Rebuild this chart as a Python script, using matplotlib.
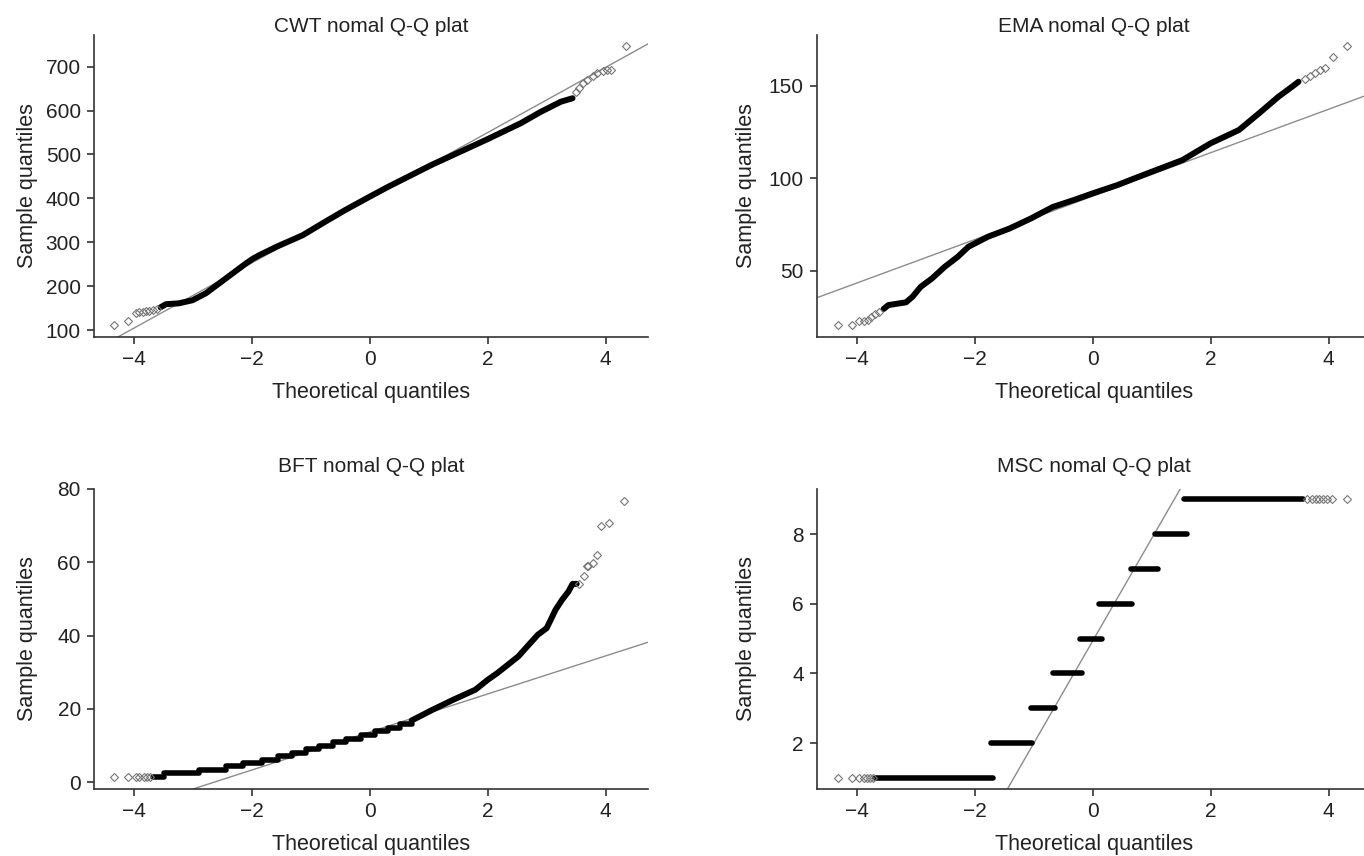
import matplotlib
matplotlib.use("Agg")
import matplotlib.pyplot as plt

plt.rcParams['font.family'] = ['Liberation Sans', 'DejaVu Sans']

# CWT
cwt_theo = [-3.55, -3.46, -3.24, -3.01, -2.78, -2.56, -2.33, -2.10, -1.98, -1.87, -1.58,
            -1.14, -0.78, -0.41, 0.0, 0.32, 1.06, 1.79, 2.0, 2.56, 2.90, 3.24, 3.44]
cwt_sample = [152, 159, 161, 168, 184, 206, 229, 252, 263, 271, 290,
              316, 345, 374, 404, 427, 477, 522, 535, 571, 597, 620, 628]
cwt_low_theo = [-4.34, -4.10, -3.97, -3.91, -3.85, -3.79, -3.74, -3.68, -3.61]
cwt_low_sample = [111, 120, 139, 141, 142, 143, 144, 145, 147]
cwt_high_theo = [3.49, 3.55, 3.61, 3.69, 3.78, 3.86, 3.95, 4.02, 4.10, 4.35]
cwt_high_sample = [643, 652, 662, 670, 679, 685, 691, 692, 693, 747]

# EMA
ema_theo = [-3.55, -3.47, -3.17, -3.06, -2.92, -2.73, -2.51, -2.29, -2.11, -1.78, -1.41,
            -1.05, -0.68, -0.32, 0.0, 0.42, 0.78, 1.15, 1.52, 2.0, 2.48, 2.82, 3.15, 3.38, 3.49]
ema_sample = [29.3, 31.4, 32.9, 35.9, 41.3, 45.8, 52.2, 57.6, 63.0, 68.4, 72.9,
              78.3, 84.5, 88.3, 91.9, 96.4, 100.9, 105.4, 109.9, 119.0, 126.2, 135.2, 144.2, 149.6, 152.3]
ema_low_theo = [-4.33, -4.08, -3.96, -3.89, -3.81, -3.76, -3.69, -3.62]
ema_low_sample = [20.6, 20.6, 22.7, 22.9, 23.6, 25.1, 26.5, 27.8]
ema_high_theo = [3.60, 3.69, 3.77, 3.86, 3.94, 4.07, 4.31]
ema_high_sample = [153.6, 155.4, 156.9, 158.5, 160.0, 165.5, 171.7]

# BFT
bft_step_edges = [-3.68, -3.49, -2.90, -2.44, -2.16, -1.83, -1.56, -1.32, -1.08,
                  -0.87, -0.63, -0.40, -0.15, 0.08, 0.31, 0.51, 0.71]
bft_step_levels = [1.36, 2.45, 3.35, 4.25, 5.2, 6.1, 7.0, 7.9, 9.0,
                   9.9, 10.8, 11.7, 12.9, 13.8, 14.7, 15.9]
bft_theo = [0.71, 1.06, 1.42, 1.79, 2.0, 2.16, 2.38, 2.52, 2.67, 2.85, 3.0,
            3.07, 3.15, 3.26, 3.37, 3.44, 3.51]
bft_sample = [16.8, 19.7, 22.5, 25.2, 27.9, 29.7, 32.5, 34.3, 37.0, 40.2, 42.0,
              44.3, 47.0, 49.7, 52.0, 54.1, 54.1]
bft_low_theo = [-4.34, -4.10, -3.97, -3.91, -3.84, -3.78, -3.73]
bft_low_sample = [1.36, 1.36, 1.36, 1.36, 1.36, 1.36, 1.36]
bft_high_theo = [3.55, 3.64, 3.68, 3.71, 3.79, 3.85, 3.93, 4.06, 4.31]
bft_high_sample = [54.1, 56.3, 59.0, 59.0, 59.9, 61.9, 69.9, 70.8, 76.7]

# MSC
msc_levels = [1, 2, 3, 4, 5, 6, 7, 8, 9]
msc_start = [-3.69, -1.72, -1.05, -0.68, -0.21, 0.11, 0.64, 1.06, 1.55]
msc_end = [-1.69, -1.03, -0.65, -0.18, 0.15, 0.67, 1.10, 1.59, 3.57]
msc_low_theo = [-4.33, -4.08, -3.96, -3.89, -3.83, -3.78, -3.73]
msc_low_sample = [1, 1, 1, 1, 1, 1, 1]
msc_high_theo = [3.64, 3.72, 3.78, 3.83, 3.90, 3.97, 4.06, 4.32]
msc_high_sample = [9, 9, 9, 9, 9, 9, 9, 9]

# reference lines (slope, intercept)
cwt_line = (74.2, 401.5)
ema_line = (11.75, 90.4)
bft_line = (5.19, 13.67)
msc_line = (2.94, 4.94)

W, H = 1364, 856
fig = plt.figure(figsize=(W / 100, H / 100), dpi=100)

# axes boxes in pixels: left, top, bottom
boxes = [(94, 35, 336.7), (817, 35, 336.7), (94, 489, 789), (817, 489, 789)]
AX_W = 554


def make_ax(box, title, ylim, yticks, title_gap, ylab_x):
    left, top, bottom = box
    ax = fig.add_axes([left / W, 1 - bottom / H, AX_W / W, (bottom - top) / H])
    h = bottom - top
    ax.set_xlim(-4.68, 4.72)
    ax.set_ylim(*ylim)
    ax.set_xticks([-4, -2, 0, 2, 4])
    ax.set_yticks(yticks)
    for s in ["top", "right"]:
        ax.spines[s].set_visible(False)
    for s in ["left", "bottom"]:
        ax.spines[s].set_color("#333333")
        ax.spines[s].set_linewidth(1.2)
    ax.tick_params(length=5, width=1.2, color="#333333", labelsize=15,
                   labelcolor="#222222", pad=4.5)
    ax.set_title(title, fontsize=15, color="#222222", y=1 + title_gap / h, pad=0)
    ax.set_xlabel("Theoretical quantiles", fontsize=15.5, color="#222222")
    ax.set_ylabel("Sample quantiles", fontsize=15.5, color="#222222")
    ax.xaxis.set_label_coords(0.5, -45 / h)
    ax.yaxis.set_label_coords(ylab_x, 0.5)
    return ax


def tails(ax, xs, ys):
    ax.plot(xs, ys, linestyle="none", marker="D", ms=3.6, mfc="none",
            mec="#777777", mew=0.8, zorder=3)


def ref_line(ax, line):
    slope, intercept = line
    ax.axline((0, intercept), slope=slope, color="#8c8c8c", lw=1.0, zorder=1)


# CWT
ax = make_ax(boxes[0], "CWT nomal Q-Q plat", (85, 772), [100, 200, 300, 400, 500, 600, 700], 2.7, -0.101)
ref_line(ax, cwt_line)
ax.plot(cwt_theo, cwt_sample, color="black", lw=4.3, solid_capstyle="round", zorder=2)
tails(ax, cwt_low_theo, cwt_low_sample)
tails(ax, cwt_high_theo, cwt_high_sample)

# EMA
ax = make_ax(boxes[1], "EMA nomal Q-Q plat", (14.3, 177.6), [50, 100, 150], 2.7, -0.108)
ref_line(ax, ema_line)
ax.plot(ema_theo, ema_sample, color="black", lw=4.3, solid_capstyle="round", zorder=2)
tails(ax, ema_low_theo, ema_low_sample)
tails(ax, ema_high_theo, ema_high_sample)

# BFT
ax = make_ax(boxes[2], "BFT nomal Q-Q plat", (-1.9, 80), [0, 20, 40, 60, 80], 16.7, -0.101)
ref_line(ax, bft_line)
ax.hlines(bft_step_levels, bft_step_edges[:-1], bft_step_edges[1:], color="black",
          lw=4.0, capstyle="round", zorder=2)
ax.plot(bft_theo, bft_sample, color="black", lw=4.3, solid_capstyle="round", zorder=2)
tails(ax, bft_low_theo, bft_low_sample)
tails(ax, bft_high_theo, bft_high_sample)

# MSC
ax = make_ax(boxes[3], "MSC nomal Q-Q plat", (0.68, 9.3), [2, 4, 6, 8], 16.7, -0.108)
ref_line(ax, msc_line)
ax.hlines(msc_levels, msc_start, msc_end, color="black", lw=4.0, capstyle="round", zorder=2)
tails(ax, msc_low_theo, msc_low_sample)
tails(ax, msc_high_theo, msc_high_sample)

fig.savefig("out.png", dpi=100)
